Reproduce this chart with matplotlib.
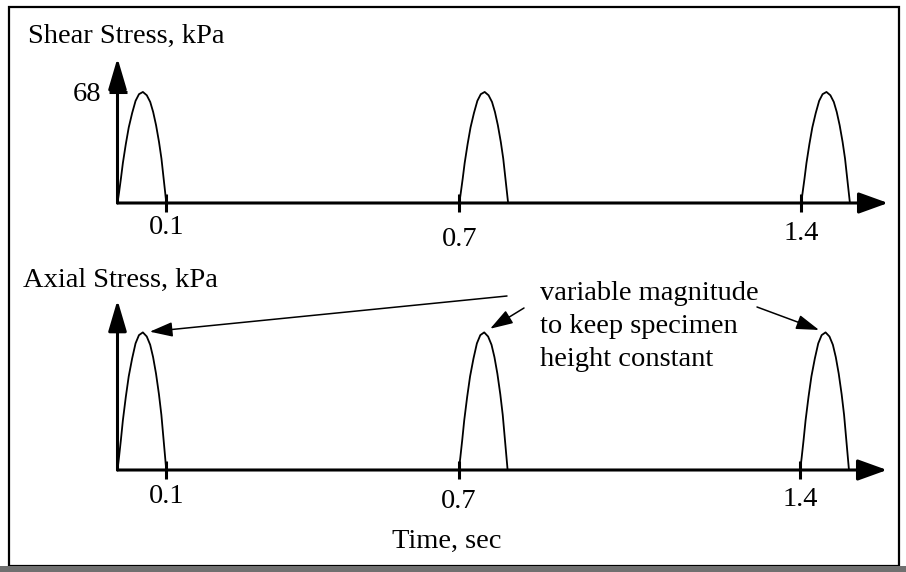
import matplotlib.pyplot as plt
from matplotlib.patches import Rectangle

plt.rcParams['font.family'] = ['Liberation Serif', 'DejaVu Serif']
plt.rcParams['font.size'] = 20.5

# load pulses: start time (s), duration (s), peak values (kPa)
pulse_starts = [0.0, 0.7, 1.4]
pulse_width = 0.1
shear_peaks = [68, 68, 68]
axial_peaks = [85, 85, 85]

# time axis marks
tick_times = [0.1, 0.7, 1.4]
tick_labels = ['0.1', '0.7', '1.4']

# shape of a single pulse: fraction of duration vs fraction of peak
pulse_frac_t = [0.00, 0.03, 0.07, 0.11, 0.17, 0.23, 0.30, 0.37, 0.44, 0.52,
                0.60, 0.67, 0.73, 0.79, 0.85, 0.90, 0.95, 1.00]
pulse_frac_h = [0.00, 0.09, 0.22, 0.36, 0.53, 0.68, 0.81, 0.92, 0.98, 1.00,
                0.97, 0.91, 0.82, 0.70, 0.55, 0.40, 0.20, 0.00]

W, H = 906, 572
T_MAX = 1.578

fig = plt.figure(figsize=(W / 100, H / 100), dpi=100)


def add_ax(left, right, top, bottom):
    # position given in pixels from the top-left corner
    return fig.add_axes([left / W, 1 - bottom / H, (right - left) / W, (bottom - top) / H])


def setup(ax, ymax, label_offsets):
    ax.set_xlim(0, T_MAX)
    ax.set_ylim(0, ymax)
    for s in ax.spines.values():
        s.set_visible(False)
    ax.patch.set_alpha(0)
    arrow = dict(color='k', lw=2.2, shrinkA=0, shrinkB=0, mutation_scale=1)
    ax.annotate('', xy=(1, 0), xytext=(0, 0), xycoords='axes fraction',
                arrowprops=dict(arrowstyle='-|>,head_length=18,head_width=6.5', **arrow),
                annotation_clip=False)
    ax.annotate('', xy=(0, 1), xytext=(0, 0), xycoords='axes fraction',
                arrowprops=dict(arrowstyle='-|>,head_length=19,head_width=5.6', **arrow),
                annotation_clip=False)
    ax.set_xticks(tick_times)
    ax.tick_params(axis='x', direction='inout', length=13, width=2.2, labelbottom=False)
    for t, lbl, off in zip(tick_times, tick_labels, label_offsets):
        ax.annotate(lbl, xy=(t, 0), xycoords=('data', 'axes fraction'),
                    xytext=(0, -off), textcoords='offset points',
                    ha='center', va='baseline')


def draw_pulses(ax, peaks):
    for start, peak in zip(pulse_starts, peaks):
        t = [start + f * pulse_width for f in pulse_frac_t]
        y = [peak * h for h in pulse_frac_h]
        ax.plot(t, y, color='k', lw=1.3, clip_on=False)


# shear stress
ax1 = add_ax(117.5, 888, 58, 203)
setup(ax1, 88.8, [22, 31, 27])
ax1.set_yticks([68], ['68'])
ax1.tick_params(axis='y', direction='inout', length=13, width=2.2, pad=5, labelsize=20.5)
draw_pulses(ax1, shear_peaks)

# axial stress
ax2 = add_ax(117.5, 887, 300, 470)
setup(ax2, 105, [24, 27, 26])
ax2.set_yticks([])
draw_pulses(ax2, axial_peaks)

fig.text(28 / W, 1 - 43 / H, 'Shear Stress, kPa', va='baseline')
fig.text(23 / W, 1 - 287 / H, 'Axial Stress, kPa', va='baseline')
fig.text(447 / W, 1 - 548 / H, 'Time, sec', ha='center', va='baseline')

# multi-line note, anchored on the baseline of its last line
fig.text(540 / W, 1 - 366 / H, 'variable magnitude\nto keep specimen\nheight constant',
         va='baseline', linespacing=1.42)

# arrows from the note to each axial pulse peak
ipk = pulse_frac_h.index(max(pulse_frac_h))
tails = [(507, 296), (524, 308), (757, 307)]
for start, peak, (tx, ty) in zip(pulse_starts, axial_peaks, tails):
    ax2.annotate('', xy=(start + pulse_frac_t[ipk] * pulse_width, peak), xycoords='data',
                 xytext=(tx / W, 1 - ty / H), textcoords='figure fraction',
                 arrowprops=dict(arrowstyle='-|>,head_length=14,head_width=4.5',
                                 mutation_scale=1, lw=1.1, color='k',
                                 shrinkA=0, shrinkB=5))

# frame around the figure
fig.add_artist(Rectangle((9 / W, 1 - 566 / H), 890 / W, 559 / H, transform=fig.transFigure,
                         fill=False, lw=1.6, ec='k'))
fig.add_artist(Rectangle((0, 0), 1, 6 / H, transform=fig.transFigure,
                         color='#707070', lw=0))

fig.savefig('out.png', dpi=100)
